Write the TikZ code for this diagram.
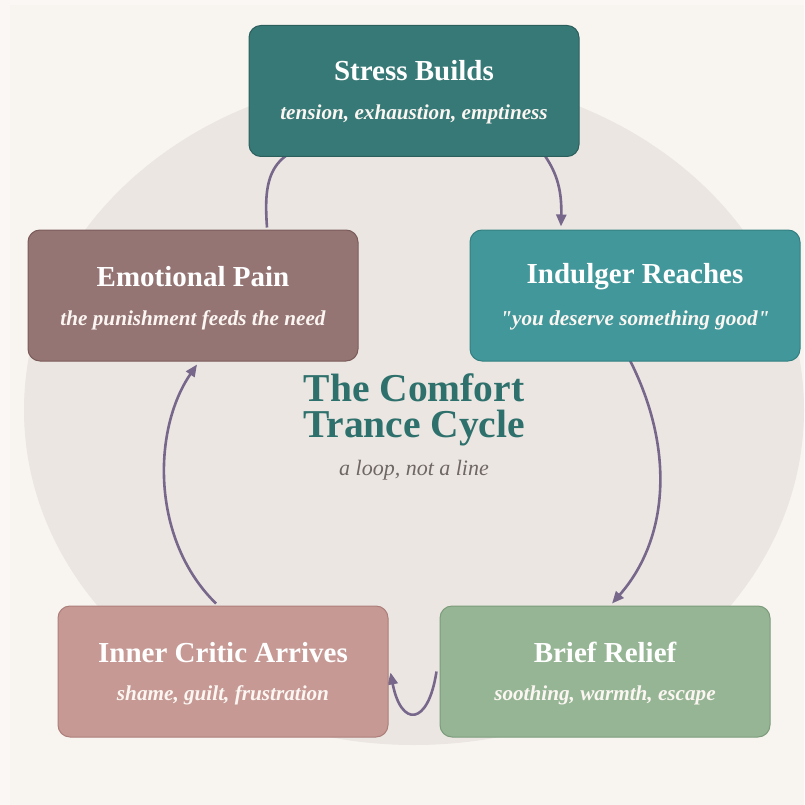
\documentclass[tikz,border=0pt]{standalone}
\usepackage{fontspec}
\setmainfont{Liberation Serif}
\usetikzlibrary{arrows.meta,calc}
\pgfdeclarelayer{bg}
\pgfdeclarelayer{arrowlayer}
\pgfsetlayers{bg,arrowlayer,main}
\definecolor{pageout}{HTML}{FAF7F4}
\definecolor{pagein}{HTML}{F8F4F0}
\definecolor{ellc}{HTML}{EBE6E2}
\definecolor{stressc}{HTML}{377976}
\definecolor{stressd}{HTML}{2B5F5D}
\definecolor{indulc}{HTML}{42979A}
\definecolor{induld}{HTML}{338082}
\definecolor{painc}{HTML}{957574}
\definecolor{paind}{HTML}{7B5C5B}
\definecolor{criticc}{HTML}{C69994}
\definecolor{criticd}{HTML}{AD7F7A}
\definecolor{reliefc}{HTML}{95B594}
\definecolor{reliefd}{HTML}{7C9C7B}
\definecolor{arrowc}{HTML}{76678B}
\definecolor{titlec}{HTML}{2E706C}
\definecolor{subc}{HTML}{6F6763}
\definecolor{boxsubc}{HTML}{FBF6F2}
\tikzset{
  boxst/.style={rounded corners=12pt, minimum width=330pt, minimum height=131pt, line width=1pt, inner sep=0pt},
  boxtitle/.style={text=white, font=\fontsize{29}{32}\selectfont\bfseries, inner sep=0pt, anchor=base},
  boxsub/.style={text=boxsubc, font=\fontsize{21.2}{25}\selectfont\bfseries\itshape, inner sep=0pt, anchor=base},
  bigtitle/.style={text=titlec, font=\fontsize{39.5}{37}\selectfont\bfseries, inner sep=0pt, anchor=base},
  flow/.style={draw=arrowc, line width=2.6pt, -{Triangle[length=12pt,width=10pt]}}
}
\begin{document}
\begin{tikzpicture}[x=1pt,y=-1pt]
\useasboundingbox (0,0) rectangle (804,805);
\begin{pgfonlayer}{bg}
\fill[pageout] (0,0) rectangle (804,805);
\fill[pagein] (10,5) rectangle (804,805);
\fill[ellc] (414,410) ellipse [x radius=390, y radius=335];
\end{pgfonlayer}

% boxes
\node[boxst, fill=stressc, draw=stressd] (stress) at (414,91) {};
\node[boxst, fill=indulc, draw=induld] (indulger) at (635,295.5) {};
\node[boxst, fill=painc, draw=paind] (pain) at (193,295.5) {};
\node[boxst, fill=criticc, draw=criticd] (critic) at (223,671.5) {};
\node[boxst, fill=reliefc, draw=reliefd] (relief) at (605,671.5) {};

% box texts (baselines)
\node[boxtitle] (stressT) at ($(stress.center)+(0,-10)$) {Stress Builds};
\node[boxsub] (stressS) at ($(stress.center)+(0,29)$) {tension, exhaustion, emptiness};
\node[boxtitle] (indulT) at ($(indulger.center)+(0,-12)$) {Indulger Reaches};
\node[boxsub] (indulS) at ($(indulger.center)+(0,29.5)$) {\textquotedbl you deserve something good\textquotedbl};
\node[boxtitle] (painT) at ($(pain.center)+(0,-9.5)$) {Emotional Pain};
\node[boxsub] (painS) at ($(pain.center)+(0,29.5)$) {the punishment feeds the need};
\node[boxtitle] (criticT) at ($(critic.center)+(0,-9.5)$) {Inner Critic Arrives};
\node[boxsub] (criticS) at ($(critic.center)+(0,29)$) {shame, guilt, frustration};
\node[boxtitle] (reliefT) at ($(relief.center)+(0,-9.5)$) {Brief Relief};
\node[boxsub] (reliefS) at ($(relief.center)+(0,29)$) {soothing, warmth, escape};

% centre title
\node[bigtitle] (title1) at (414,401) {The Comfort};
\node[bigtitle] (title2) at (414,437) {Trance Cycle};
\node[text=subc, font=\fontsize{22}{26}\selectfont\itshape, inner sep=0pt, anchor=base] (subtitle) at (414,475) {a loop, not a line};

% connectors
\begin{pgfonlayer}{arrowlayer}
\coordinate (a1s) at ($(stress.south)+(129,-4)$);
\coordinate (a1e) at ($(indulger.north)+(-74,-3)$);
\draw[flow] (a1s) .. controls ($(a1s)+(12,17)$) and ($(a1e)+(1,-40)$) .. (a1e);

\coordinate (a2s) at ($(indulger.south)+(-6,-3)$);
\coordinate (a2e) at ($(relief.north)+(7,-2)$);
\draw[flow] (a2s) .. controls (676,450) and (668,540) .. (a2e);

\coordinate (a3s) at ($(relief.west)+(-3,0)$);
\coordinate (a3e) at ($(critic.east)+(2,1)$);
\draw[flow] (a3s) .. controls (428,727) and (401,727) .. (a3e);

\coordinate (a4s) at ($(critic.north)+(-7,-2)$);
\coordinate (a4e) at ($(pain.south)+(4,3)$);
\draw[flow] (a4s) .. controls (151,540) and (152,430) .. (a4e);

\coordinate (a5s) at ($(pain.north)+(74,-2)$);
\coordinate (a5e) at ($(stress.south)+(-80,-15)$);
\draw[flow] (a5s) .. controls (264,185) and (266,150) .. (a5e);
\end{pgfonlayer}
\end{tikzpicture}
\end{document}
